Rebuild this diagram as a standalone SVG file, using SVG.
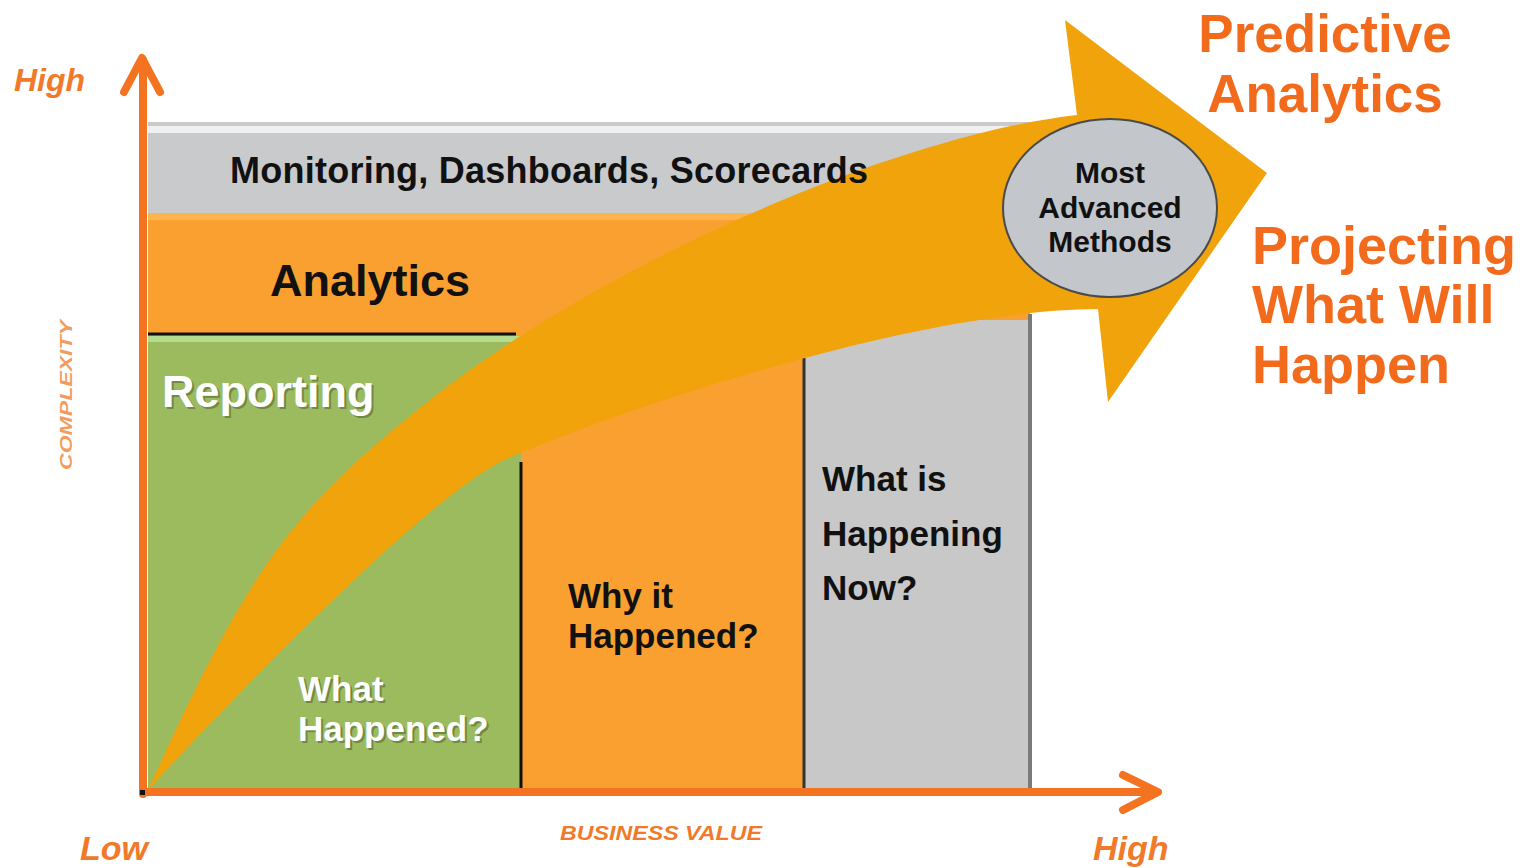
<svg xmlns="http://www.w3.org/2000/svg" width="1530" height="868" viewBox="0 0 1530 868">
  <style>
    .lbl { font-family: "Liberation Sans", Arial, sans-serif; font-weight: bold; }
    .dark { fill: #111111; }
    .white { fill: #ffffff; }
    .shadow { fill: #4f5f33; opacity: 0.55; }
    .orange { fill: #f26b1d; }
    .axislbl { fill: #f07a2a; font-style: italic; }
    .axis { stroke: #f37321; stroke-width: 8; fill: none; stroke-linecap: round; stroke-linejoin: round; }
  </style>

  <rect width="1530" height="868" fill="#ffffff"/>

  <!-- Layer bands -->
  <g id="monitoring-band">
    <rect x="148" y="122" width="884" height="91" fill="#c9cacb"/>
    <rect x="148" y="126" width="884" height="7" fill="#f0f0f0"/>
  </g>

  <g id="analytics-band">
    <rect x="148" y="213" width="882" height="124" fill="#f9a031"/>
    <rect x="148" y="213" width="882" height="7" fill="#fcb54c"/>
  </g>

  <g id="reporting-block">
    <rect x="148" y="336" width="373" height="452" fill="#9bbb5e"/>
    <rect x="148" y="336" width="373" height="6" fill="#b4dc8c"/>
    <line x1="148" y1="334" x2="516" y2="334" stroke="#111" stroke-width="3"/>
  </g>

  <g id="why-column">
    <rect x="521" y="336" width="284" height="452" fill="#f9a031"/>
    <line x1="521" y1="462" x2="521" y2="788" stroke="#111" stroke-width="3"/>
  </g>

  <g id="now-column">
    <rect x="805" y="320" width="225" height="468" fill="#c8c8c8"/>
    <line x1="804" y1="358" x2="804" y2="788" stroke="#333" stroke-width="3"/>
    <line x1="1030" y1="314" x2="1030" y2="788" stroke="#7a7a7a" stroke-width="4"/>
  </g>

  <!-- Axes -->
  <g id="axes">
    <line class="axis" x1="143" y1="794" x2="143" y2="60"/>
    <polyline class="axis" points="124,92 142,58 160,92"/>
    <line class="axis" x1="143" y1="792" x2="1156" y2="792"/>
    <polyline class="axis" points="1123,775 1158,792 1123,810"/>
    <rect x="140" y="790" width="5" height="5" fill="#111"/>
  </g>

  <!-- Curved progress arrow -->
  <g id="progress-arrow">
    <path d="M148,790 C248,570 290,512 420,408 C600,262 900,135 1077,115 L1065,20 L1267,173 L1108,402 L1098,309 C900,310 580,425 500,462 C420,505 250,680 148,790 Z" fill="#f0a30b"/>
  </g>

  <g id="advanced-methods">
    <ellipse cx="1110" cy="208" rx="107" ry="89" fill="#c3c6cb" stroke="#4a4a4a" stroke-width="2"/>
    <text class="lbl dark" x="1110" y="183" font-size="30" text-anchor="middle">Most</text>
    <text class="lbl dark" x="1110" y="218" font-size="30" text-anchor="middle">Advanced</text>
    <text class="lbl dark" x="1110" y="252" font-size="30" text-anchor="middle">Methods</text>
  </g>

  <!-- Band and column labels -->
  <g id="band-labels">
    <text class="lbl dark" x="230" y="183" font-size="36" textLength="638" lengthAdjust="spacing">Monitoring, Dashboards,  Scorecards</text>
    <text class="lbl dark" x="270" y="296" font-size="45">Analytics</text>
    <text class="lbl shadow" x="164" y="409" font-size="45">Reporting</text>
    <text class="lbl white" x="162" y="407" font-size="45">Reporting</text>
  </g>

  <g id="what-happened">
    <text class="lbl shadow" x="300" y="703" font-size="35">What</text>
    <text class="lbl shadow" x="300" y="743" font-size="35">Happened?</text>
    <text class="lbl white" x="298" y="701" font-size="35">What</text>
    <text class="lbl white" x="298" y="741" font-size="35">Happened?</text>
  </g>

  <g id="why-happened">
    <text class="lbl dark" x="568" y="608" font-size="35">Why it</text>
    <text class="lbl dark" x="568" y="648" font-size="35">Happened?</text>
  </g>

  <g id="happening-now">
    <text class="lbl dark" x="822" y="491" font-size="35">What is</text>
    <text class="lbl dark" x="822" y="546" font-size="35">Happening</text>
    <text class="lbl dark" x="822" y="600" font-size="35">Now?</text>
  </g>

  <!-- Outcome labels -->
  <g id="predictive-analytics">
    <text class="lbl orange" x="1325" y="52" font-size="53" text-anchor="middle">Predictive</text>
    <text class="lbl orange" x="1325" y="112" font-size="53" text-anchor="middle">Analytics</text>
  </g>

  <g id="projecting">
    <text class="lbl orange" x="1252" y="264" font-size="54">Projecting</text>
    <text class="lbl orange" x="1252" y="323" font-size="54">What Will</text>
    <text class="lbl orange" x="1252" y="383" font-size="54">Happen</text>
  </g>

  <!-- Axis labels -->
  <g id="axis-labels">
    <text class="lbl axislbl" x="14" y="91" font-size="32">High</text>
    <text class="lbl axislbl" x="80" y="860" font-size="34">Low</text>
    <text class="lbl axislbl" x="1093" y="860" font-size="34">High</text>
    <text class="lbl axislbl" x="560" y="840" font-size="21" textLength="202" lengthAdjust="spacingAndGlyphs">BUSINESS VALUE</text>
    <text class="lbl axislbl" transform="translate(72,395) rotate(-90)" x="0" y="0" font-size="17" text-anchor="middle" textLength="150" lengthAdjust="spacingAndGlyphs" fill-opacity="0.75">COMPLEXITY</text>
  </g>
</svg>
